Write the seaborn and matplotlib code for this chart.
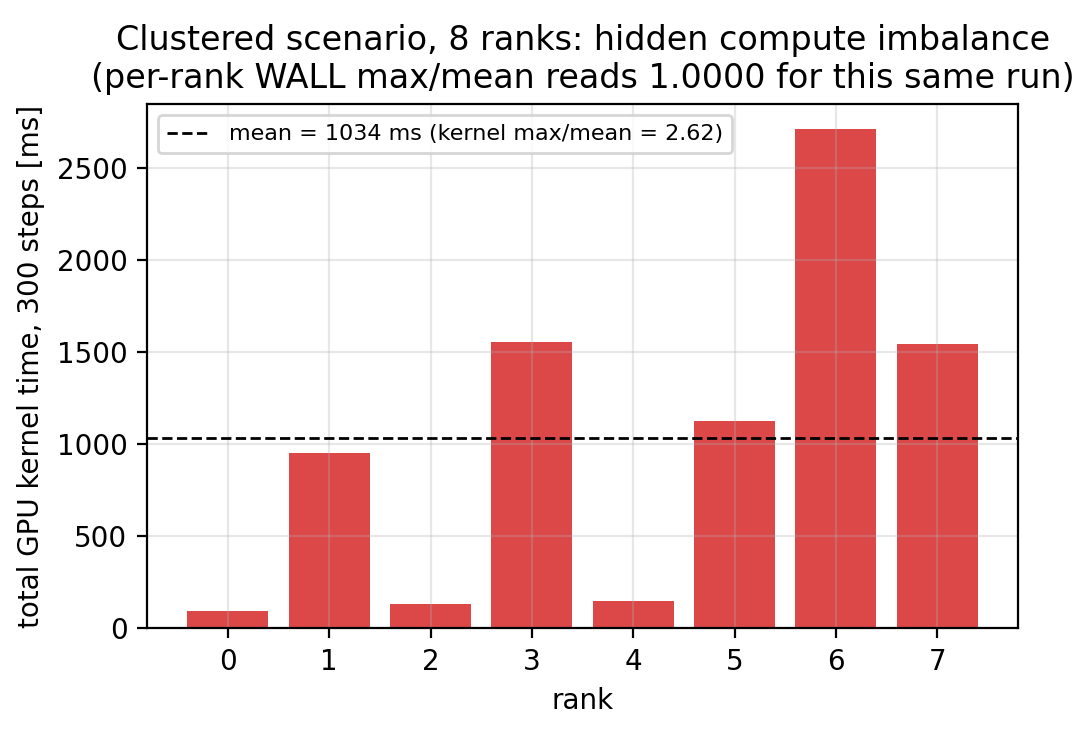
import numpy as np
import pandas as pd
import seaborn as sns
import matplotlib.pyplot as plt

# per-rank total GPU kernel time over 300 steps
ranks = [0, 1, 2, 3, 4, 5, 6, 7]
kernel_ms = [97, 950, 135, 1557, 151, 1128, 2710, 1544]

df = pd.DataFrame({'rank': ranks, 'kernel_ms': kernel_ms})
mean_ms = np.mean(kernel_ms)
imb = max(kernel_ms) / mean_ms

fig, ax = plt.subplots(figsize=(5.44, 3.675), dpi=200)
sns.barplot(data=df, x='rank', y='kernel_ms', color='tab:red', alpha=0.85,
            saturation=1, width=0.8, ax=ax)
ax.axhline(mean_ms, color='black', linestyle='--', linewidth=1,
           label=f'mean = {mean_ms:.0f} ms (kernel max/mean = {imb:.2f})')
ax.set_xlim(-0.8, 7.8)
ax.set_ylim(0, max(kernel_ms) * 1.05)
ax.grid(alpha=0.3)
ax.set_xlabel('rank')
ax.set_ylabel('total GPU kernel time, 300 steps [ms]')
ax.set_title('Clustered scenario, 8 ranks: hidden compute imbalance\n'
             '(per-rank WALL max/mean reads 1.0000 for this same run)', fontsize=12)
ax.legend(loc='upper left', fontsize=8)
fig.tight_layout()
fig.subplots_adjust(left=0.135, right=0.936, top=0.858, bottom=0.145)
fig.savefig('out.png', dpi=200)
